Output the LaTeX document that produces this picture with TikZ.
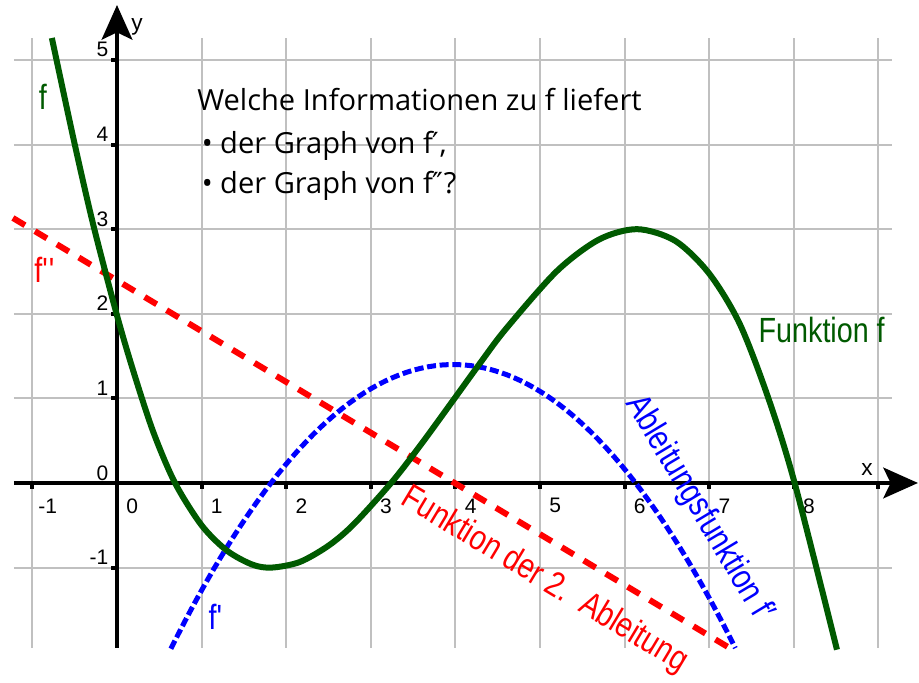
\documentclass[tikz,border=0pt]{standalone}
\usepackage{fontspec}
\setmainfont{Liberation Sans}
\newfontfamily\condf[FakeStretch=0.82]{Liberation Sans}
\newfontfamily\qfont{Open Sans}
\newfontfamily\dvs{DejaVu Sans}
\usetikzlibrary{arrows.meta}
\definecolor{fgreen}{RGB}{0,90,0}
\definecolor{gridgray}{RGB}{192,192,192}
\begin{document}
\begin{tikzpicture}[x=63.45pt,y=63.45pt,
  gridline/.style={gridgray,line width=1.5pt},
  axisline/.style={black,line width=3pt},
  axarrow/.style={-{Stealth[length=26pt,width=23pt,inset=5.5pt]}},
  tickmark/.style={black,line width=3pt},
  numlbl/.style={font=\fontsize{15.75pt}{18pt}\selectfont,inner sep=0pt},
  axlbl/.style={font=\fontsize{17pt}{20pt}\selectfont,inner sep=0pt},
  fcurve/.style={fgreen,line width=4.5pt},
  dcurve/.style={blue,line width=3.75pt,dash pattern=on 6.75pt off 2.75pt},
  ddcurve/.style={red,line width=4.5pt,dash pattern=on 10.5pt off 8.7pt},
  clbl/.style={font=\condf\fontsize{26.25pt}{30pt}\selectfont,inner sep=0pt},
  qtext/.style={font=\qfont\fontsize{21.8pt}{26pt}\selectfont,inner sep=0pt,anchor=base west}
]
\useasboundingbox (-1.383,-2.364) rectangle (9.480,5.709);
% grid
\foreach \i in {-1,...,9} \draw[gridline] (\i,-1.95) -- (\i,5.26);
\foreach \j in {-1,...,5} \draw[gridline] (-1.22,\j) -- (9.16,\j);
% axes
\coordinate (xs) at (-1.22,0);
\coordinate (xe) at (9.468,0);
\coordinate (ys) at (0,-1.95);
\coordinate (ye) at (0,5.65);
\draw[axisline,axarrow] (xs) -- (xe);
\draw[axisline,axarrow] (ys) -- (ye);
\foreach \i in {-1,...,9} \draw[tickmark] (\i,0) -- (\i,-0.071);
\foreach \j in {-1,...,5} \draw[tickmark] (0,\j) -- (-0.071,\j);
\foreach \i in {-1,...,8} \node[numlbl] (xl\i) at (\i+0.18,-0.27) {\i};
\foreach \j in {-1,...,5} \node[numlbl,anchor=east] (yl\j) at (-0.1,\j+0.12) {\j};
\node[axlbl] (xlab) at (8.865,0.165) {x};
\node[axlbl] (ylab) at (0.236,5.39) {y};
% f''
\draw[ddcurve] (-1.23,3.132) -- (7.28,-1.974);
% f'
\draw[dcurve] plot[domain=0.637:7.31,samples=80] (\x,{1.40-0.3015*(\x-3.975)^2});
% f
\draw[fcurve] plot[smooth] coordinates {(-0.77,5.26) (-0.51,4.05) (-0.28,3.05) (0,1.98) (0.2,1.3) (0.43,0.6) (0.686,0) (1.0,-0.50) (1.3,-0.80) (1.6,-0.965) (1.83,-1.0) (2.16,-0.934) (2.5,-0.741) (2.8,-0.486) (3.25,0.012) (3.6,0.464) (3.99,1.0) (4.3,1.428) (4.6,1.825) (5.2,2.505) (5.7,2.879) (6.15,3.0) (6.6,2.861) (7.0,2.475) (7.36,1.883) (7.7,1.0) (8.01,0.0) (8.51,-1.97)};
% labels
\node[clbl,fgreen] (lf) at (-0.875,4.56) {f};
\node[clbl,red] (lf2) at (-0.851,2.52) {f\textquotesingle\textquotesingle};
\node[clbl,blue] (lf1) at (1.17,-1.58) {f\textquotesingle};
\node[clbl,fgreen] (lff) at (8.33,1.81) {Funktion f};
\node[clbl,blue,rotate=-59] (lab1) at (6.88,-0.3) {Ableitungsfunktion f′};
\node[clbl,red,rotate=-31] (lab2) at (5.05,-1.15) {Funktion der 2.\ \ Ableitung};
% question
\node[qtext] (q1) at (0.946,4.397) {Welche Informationen zu f liefert};
\node[qtext] (q2) at (0.999,3.889) {• der Graph von f{\dvs ′},};
\node[qtext] (q3) at (0.999,3.416) {• der Graph von f{\dvs ″}?};
\end{tikzpicture}
\end{document}
